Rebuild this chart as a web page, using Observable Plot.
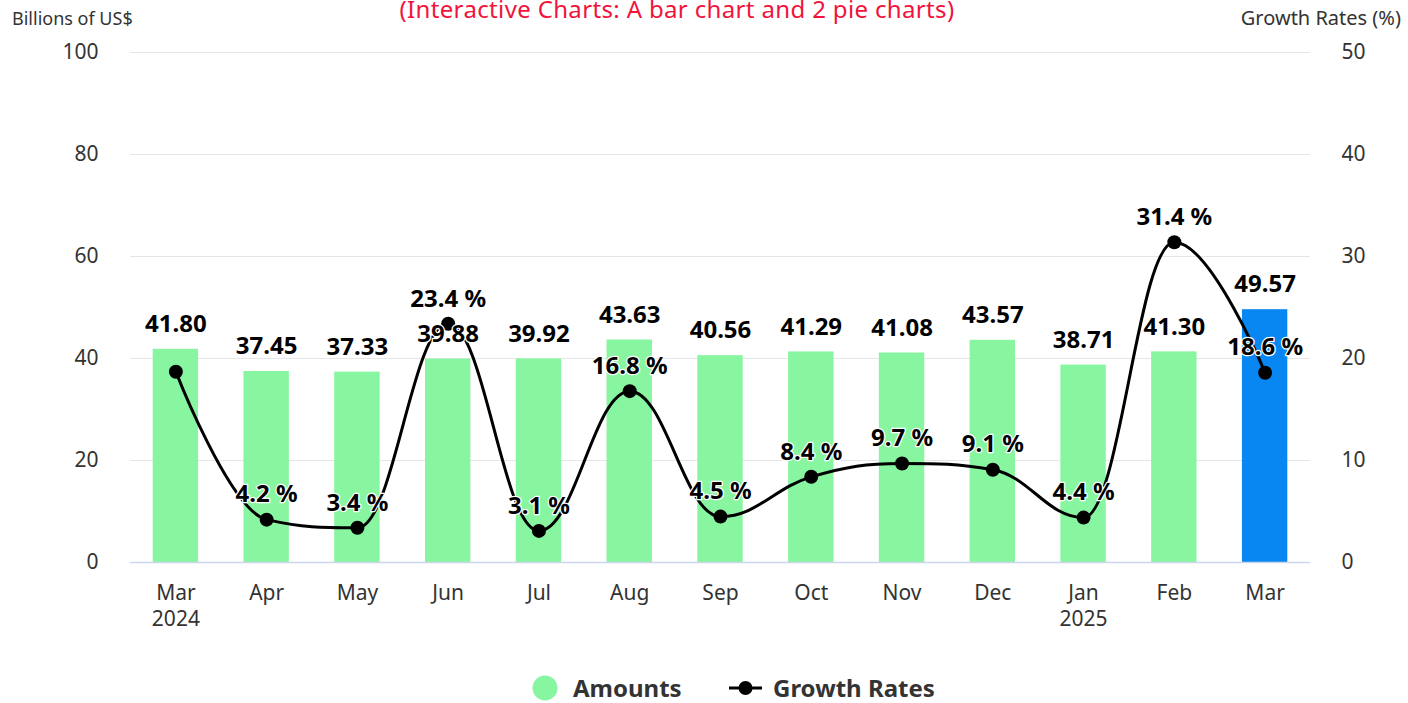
<!DOCTYPE html>
<html>
<head>
<meta charset="utf-8">
<script src="https://cdn.jsdelivr.net/npm/d3@7"></script>
<script src="https://cdn.jsdelivr.net/npm/@observablehq/plot@0.6"></script>
<style>
  html, body { margin: 0; padding: 0; background: #fff; }
  body { width: 1408px; height: 703px; overflow: hidden; position: relative; font-family: "Noto Sans", "Open Sans", sans-serif; }
  #header { position: relative; height: 30px; width: 1408px; }
  #title { position: absolute; left: 0; width: 1354px; text-align: center; top: 0px; font-size: 24px; letter-spacing: 0.35px; line-height: 18px; color: #f0143c; white-space: nowrap; }
  #ylabL { position: absolute; left: 12px; top: 6px; font-size: 18px; line-height: 24px; color: #333; white-space: nowrap; }
  #ylabR { position: absolute; right: 7px; top: 5px; font-size: 20px; line-height: 26px; color: #333; white-space: nowrap; }
  #chart { position: relative; height: 610px; }
  #legend { position: relative; height: 63px; width: 1408px; }
  .lg { position: absolute; font-size: 24px; font-weight: bold; color: #333; line-height: 30px; white-space: nowrap; }
</style>
</head>
<body>
<div id="header">
  <div id="title">(Interactive Charts: A bar chart and 2 pie charts)</div>
  <div id="ylabL">Billions of US$</div>
  <div id="ylabR">Growth Rates (%)</div>
</div>
<div id="chart"></div>
<div id="legend">
  <svg width="1408" height="63" style="position:absolute;left:0;top:0">
    <circle cx="545" cy="48" r="12.5" fill="#88f5a0"></circle>
    <line x1="729" y1="48" x2="762" y2="48" stroke="#000" stroke-width="3"></line>
    <circle cx="745.5" cy="48" r="7" fill="#000"></circle>
  </svg>
  <div class="lg" style="left:573px;top:33px">Amounts</div>
  <div class="lg" style="left:773px;top:33px">Growth Rates</div>
</div>
<script>
const months = ["Mar 2024","Apr 2024","May 2024","Jun 2024","Jul 2024","Aug 2024","Sep 2024","Oct 2024","Nov 2024","Dec 2024","Jan 2025","Feb 2025","Mar 2025"];
const xLabels = ["Mar\n2024","Apr","May","Jun","Jul","Aug","Sep","Oct","Nov","Dec","Jan\n2025","Feb","Mar"];
const amounts = [41.80, 37.45, 37.33, 39.88, 39.92, 43.63, 40.56, 41.29, 41.08, 43.57, 38.71, 41.30, 49.57];
const growth = [18.7, 4.2, 3.4, 23.4, 3.1, 16.8, 4.5, 8.4, 9.7, 9.1, 4.4, 31.4, 18.6];
const showGrowthLabel = [false, true, true, true, true, true, true, true, true, true, true, true, true];
const leftTicks = [0, 20, 40, 60, 80, 100];
const rightTicks = [0, 10, 20, 30, 40, 50];

const GREEN = "#88f5a0", BLUE = "#0886f2";
const rows = months.map((m, i) => ({
  month: m, label: xLabels[i], amount: amounts[i], growth: growth[i],
  g2: growth[i] * 2, last: i === months.length - 1, showG: showGrowthLabel[i]
}));
const labelOf = new Map(rows.map(r => [r.month, r.label]));

// Highcharts-style spline curve (d3 curve interface)
function splineCurve(context) {
  let pts;
  return {
    areaStart() {}, areaEnd() {},
    lineStart() { pts = []; },
    point(x, y) { pts.push([+x, +y]); },
    lineEnd() {
      const n = pts.length; if (!n) return;
      const s = 1.5, den = s + 1, L = [], R = [];
      for (let i = 0; i < n; i++) {
        const [x, y] = pts[i];
        if (i > 0 && i < n - 1) {
          const [lx, ly] = pts[i - 1], [nx, ny] = pts[i + 1];
          let lcx = (s * x + lx) / den, lcy = (s * y + ly) / den;
          let rcx = (s * x + nx) / den, rcy = (s * y + ny) / den;
          let corr = 0;
          if (rcx !== lcx) corr = ((rcy - lcy) * (rcx - x)) / (rcx - lcx) + y - rcy;
          lcy += corr; rcy += corr;
          if (lcy > ly && lcy > y) { lcy = Math.max(ly, y); rcy = 2 * y - lcy; }
          else if (lcy < ly && lcy < y) { lcy = Math.min(ly, y); rcy = 2 * y - lcy; }
          if (rcy > ny && rcy > y) { rcy = Math.max(ny, y); lcy = 2 * y - rcy; }
          else if (rcy < ny && rcy < y) { rcy = Math.min(ny, y); lcy = 2 * y - rcy; }
          L[i] = [lcx, lcy]; R[i] = [rcx, rcy];
        } else { L[i] = [x, y]; R[i] = [x, y]; }
      }
      context.moveTo(pts[0][0], pts[0][1]);
      for (let i = 1; i < n; i++) context.bezierCurveTo(R[i - 1][0], R[i - 1][1], L[i][0], L[i][1], pts[i][0], pts[i][1]);
    }
  };
}

const labelStyle = { fontSize: 24, fontWeight: "bold", fill: "#000", stroke: "#fff", strokeWidth: 2.5, paintOrder: "stroke" };

const chart = Plot.plot({
  width: 1408,
  height: 610,
  marginTop: 22,
  marginBottom: 78,
  marginLeft: 130,
  marginRight: 98,
  style: { fontFamily: "'Noto Sans', 'Open Sans', sans-serif", fontSize: "21px", color: "#333", background: "#fff" },
  x: { domain: months, paddingInner: 0.5, paddingOuter: 0.25, round: false, label: null },
  y: { domain: [0, 100], label: null },
  marks: [
    Plot.gridY(leftTicks.filter(d => d > 0), { stroke: "#e6e6e6", strokeOpacity: 1, strokeWidth: 1 }),
    Plot.axisY({ anchor: "left", ticks: leftTicks, tickSize: 0, tickPadding: 32, tickFormat: d => d, label: null, fontSize: 21 }),
    Plot.axisY({ anchor: "right", ticks: rightTicks.map(d => d * 2), tickSize: 0, tickPadding: 31, tickFormat: d => d / 2, label: null, fontSize: 21 }),
    Plot.axisX({ tickSize: 0, tickPadding: 19, tickFormat: d => labelOf.get(d), lineHeight: 1.25, fontSize: 21, label: null }),
    Plot.barY(rows, { x: "month", y: "amount", fill: d => d.last ? BLUE : GREEN }),
    Plot.ruleY([0], { stroke: "#ccd6eb", strokeWidth: 1.5 }),
    Plot.line(rows, { x: "month", y: "g2", curve: splineCurve, stroke: "#000", strokeWidth: 3 }),
    Plot.dot(rows, { x: "month", y: "g2", r: 7, fill: "#000", stroke: null }),
    Plot.text(rows, { x: "month", y: "amount", text: d => d.amount.toFixed(2), dy: -25, ...labelStyle }),
    Plot.text(rows.filter(d => d.showG), { x: "month", y: "g2", text: d => d.growth.toFixed(1) + " %", dy: -25, ...labelStyle })
  ]
});
document.getElementById("chart").appendChild(chart);
</script>
</body>
</html>
